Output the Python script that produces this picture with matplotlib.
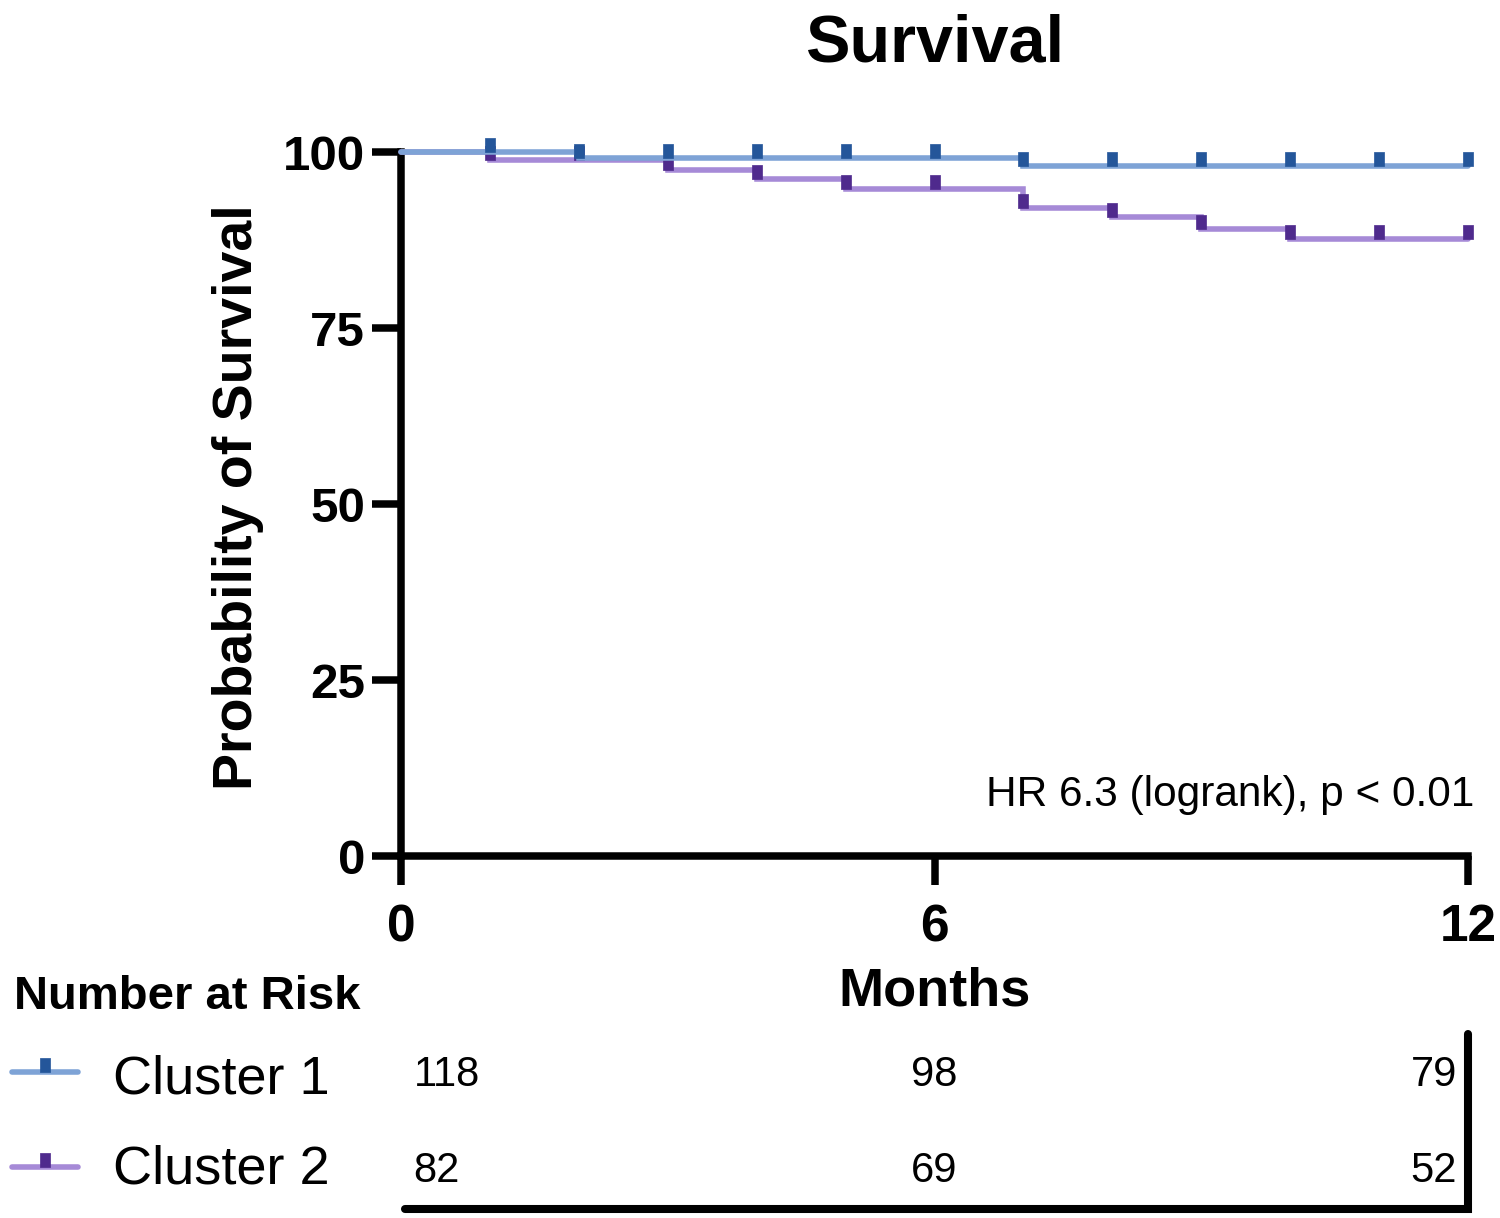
import matplotlib

matplotlib.use("Agg")
import matplotlib.pyplot as plt
import matplotlib.transforms as mtransforms
from matplotlib.lines import Line2D
from matplotlib.path import Path
import numpy as np

# survival steps (percent, value after each event)
CLUSTER1_EVENT_MONTHS = [2, 7]
CLUSTER1_SURVIVAL = [99.1, 98.0]
CLUSTER2_EVENT_MONTHS = [1, 3, 4, 5, 7, 8, 9, 10]
CLUSTER2_SURVIVAL = [98.8, 97.5, 96.2, 94.8, 92.1, 90.7, 89.1, 87.6]
CENSOR_MONTHS = [1, 2, 3, 4, 5, 6, 7, 8, 9, 10, 11, 12]

RISK_MONTHS = [0, 6, 12]
CLUSTER1_AT_RISK = [118, 98, 79]
CLUSTER2_AT_RISK = [82, 69, 52]

SERIES_NAMES = ["Cluster 1", "Cluster 2"]
X_TICKS = [0, 6, 12]
Y_TICKS = [0, 25, 50, 75, 100]

BLUE_LINE, BLUE_MARK = "#7ea3d6", "#24569a"
PURPLE_LINE, PURPLE_MARK = "#a68ad7", "#4f2a8d"

plt.rcParams["font.family"] = ["Liberation Sans", "DejaVu Sans"]

W, H = 1500, 1218
LINE_W = 4.0
fig = plt.figure(figsize=(W / 100, H / 100), dpi=100)
ax = fig.add_axes([401 / W, 1 - 856 / H, 1067 / W, 704 / H])

# tick mark sitting on top of the line, like the censor marks
censor_marker = Path([(-0.375, 0), (0.375, 0), (0.375, 1), (-0.375, 1), (-0.375, 0)])


def step_curve(events, values, end=12):
    t = np.array([0] + list(events) + [end], dtype=float)
    s = np.array([100] + list(values) + [values[-1]], dtype=float)
    return t, s


def value_at(t, s, when):
    idx = np.searchsorted(t, when, side="right") - 1
    return s[np.clip(idx, 0, len(s) - 1)]


curves = [
    (CLUSTER2_EVENT_MONTHS, CLUSTER2_SURVIVAL, PURPLE_LINE, PURPLE_MARK),
    (CLUSTER1_EVENT_MONTHS, CLUSTER1_SURVIVAL, BLUE_LINE, BLUE_MARK),
]
for events, values, lc, mc in curves:
    t, s = step_curve(events, values)
    ax.plot(t, s, drawstyle="steps-post", color=lc, lw=LINE_W, clip_on=False,
            solid_capstyle="round", solid_joinstyle="miter", zorder=3)
    cm = np.array(CENSOR_MONTHS, dtype=float)
    ax.plot(cm, value_at(t, s, cm), ls="none", marker=censor_marker, ms=20.6,
            mfc=mc, mec=mc, mew=0.5, clip_on=False, zorder=3)

ax.set_xlim(0, 12)
ax.set_ylim(0, 100)
ax.set_xticks(X_TICKS)
ax.set_yticks(Y_TICKS)
for side in ("top", "right"):
    ax.spines[side].set_visible(False)
for side in ("left", "bottom"):
    ax.spines[side].set_linewidth(5.4)
    ax.spines[side].set_capstyle("projecting")
ax.tick_params(axis="both", length=21, width=5.4, color="black")
ax.tick_params(axis="y", pad=5, labelsize=35.5)
ax.tick_params(axis="x", pad=13, labelsize=37)
for lab in ax.get_xticklabels() + ax.get_yticklabels():
    lab.set_fontweight("bold")

ax.text(12.07, 7.1, "HR 6.3 (logrank), p < 0.01", ha="right", va="baseline", fontsize=30.5)

blend = mtransforms.blended_transform_factory(ax.transData, fig.transFigure)
fig.text(6, 1 - 62 / H, "Survival", transform=blend, ha="center", va="baseline",
         fontsize=48, fontweight="bold")
fig.text(6, 1 - 1006 / H, "Months", transform=blend, ha="center", va="baseline",
         fontsize=39, fontweight="bold")
fig.text(238 / W, 1 - 497 / H, "Probability of Survival", rotation=90, ha="center",
         va="center", fontsize=40, fontweight="bold")
fig.text(14 / W, 1 - 1009 / H, "Number at Risk", ha="left", va="baseline",
         fontsize=34, fontweight="bold")

# number-at-risk table
rows = [
    (SERIES_NAMES[0], CLUSTER1_AT_RISK, BLUE_LINE, BLUE_MARK, 1072, 1093, 1086),
    (SERIES_NAMES[1], CLUSTER2_AT_RISK, PURPLE_LINE, PURPLE_MARK, 1167, 1183, 1182),
]
for name, counts, lc, mc, line_y, label_base, num_base in rows:
    fy = 1 - line_y / H
    fig.add_artist(Line2D([12 / W, 78 / W], [fy, fy], color=lc, lw=LINE_W,
                          solid_capstyle="round", transform=fig.transFigure))
    fig.add_artist(Line2D([45 / W], [fy], ls="none", marker=censor_marker, ms=20.6,
                          mfc=mc, mec=mc, mew=0.5, transform=fig.transFigure))
    fig.text(113 / W, 1 - label_base / H, name, ha="left", va="baseline", fontsize=39)
    for month, n in zip(RISK_MONTHS, counts):
        if month == RISK_MONTHS[0]:
            ha, dx = "left", 9
        elif month == RISK_MONTHS[-1]:
            ha, dx = "right", -8
        else:
            ha, dx = "center", 0
        tr = blend + mtransforms.ScaledTranslation(dx / 72, 0, fig.dpi_scale_trans)
        fig.text(month, 1 - num_base / H, str(n), transform=tr, ha=ha, va="baseline", fontsize=30)

y_bot, y_top = 1 - 1209 / H, 1 - 1034 / H
fig.add_artist(Line2D([0.05, 12, 12], [y_bot, y_bot, y_top], color="black", lw=5.8,
                      solid_capstyle="round", solid_joinstyle="miter", transform=blend))

fig.savefig("out.png", dpi=100)
